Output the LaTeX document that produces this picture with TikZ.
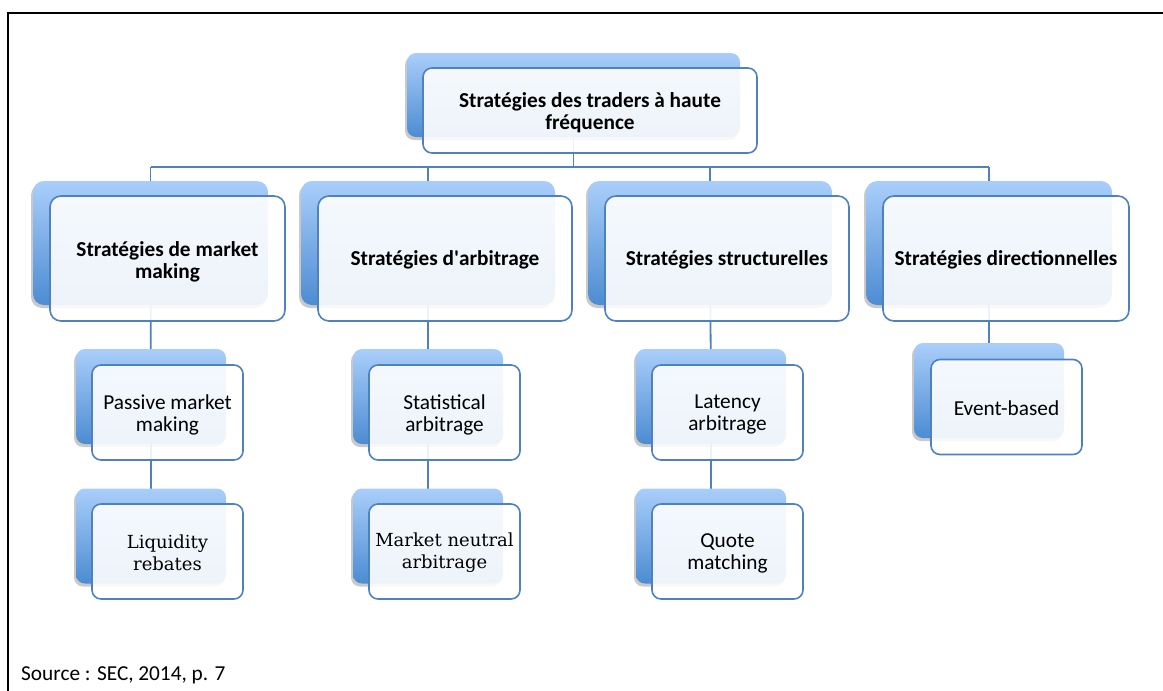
\documentclass[tikz,border=0pt]{standalone}
\usepackage{fontspec}
\setmainfont{Carlito}
\newfontfamily\seriffam{DejaVu Serif}
\usetikzlibrary{shadows,backgrounds}

\definecolor{edgeblue}{RGB}{79,129,189}
\definecolor{backtop}{RGB}{170,206,250}
\definecolor{backbot}{RGB}{76,140,210}

\begin{document}
\begin{tikzpicture}[x=1pt,y=-1pt,
  backbox/.style={rectangle, rounded corners=11pt, inner sep=0pt, draw=none,
    top color=backtop, bottom color=backbot,
    drop shadow={shadow xshift=-2pt, shadow yshift=-3pt, opacity=0.3, fill=black!70}},
  frontbox/.style={rectangle, rounded corners=11pt, inner sep=0pt, draw=edgeblue,
    line width=1.6pt, fill=white, fill opacity=0.9},
  bodytext/.style={inner sep=0pt, align=center, font=\fontsize{21.3}{22}\selectfont},
  headtext/.style={bodytext, font=\fontsize{21.3}{22}\selectfont\bfseries},
  serifbody/.style={bodytext, font=\seriffam\fontsize{18}{22}\selectfont},
  smallback/.style={backbox, minimum width=150pt, minimum height=95pt, rounded corners=9pt},
  smallfront/.style={frontbox, minimum width=151pt, minimum height=95pt, rounded corners=9pt},
  bigback/.style={backbox, minimum height=124pt},
  bigfront/.style={frontbox, minimum height=125pt},
  conn/.style={draw=edgeblue, line width=1.8pt}]

\useasboundingbox (0,0) rectangle (1163,691);

% frame (top and left edges)
\draw[line width=2pt] (8,691) -- (8,13) -- (1163,13);

% root
\node[backbox, minimum width=333pt, minimum height=84pt, rounded corners=9pt] (b0) at (573.5,95) {};
\node[frontbox, minimum width=334pt, minimum height=85pt, rounded corners=9pt] (f0) at (590,110.5) {};
\node[headtext] (t0) at ([yshift=-2.5pt]f0.center) {Stratégies des traders à haute\\fréquence};

% first level
\node[bigback, minimum width=235pt] (b1) at (150.5,243) {};
\node[bigfront, minimum width=235pt] (f1) at (167.5,258.5) {};
\node[headtext] (t1) at ([yshift=-3pt]f1.center) {Stratégies de market\\making};

\node[bigback, minimum width=254pt] (b2) at (428,243) {};
\node[bigfront, minimum width=254pt] (f2) at (445,258.5) {};
\node[headtext] (t2) at ([yshift=-1pt]f2.center) {Stratégies d\textquotesingle arbitrage};

\node[bigback, minimum width=244pt] (b3) at (710,243) {};
\node[bigfront, minimum width=244pt] (f3) at (727,258.5) {};
\node[headtext] (t3) at ([yshift=-1pt]f3.center) {Stratégies structurelles};

\node[bigback, minimum width=246pt] (b4) at (989,243) {};
\node[bigfront, minimum width=246pt] (f4) at (1006,258.5) {};
\node[headtext] (t4) at ([yshift=-1pt]f4.center) {Stratégies directionnelles};

% second level
\node[smallback] (b1a) at (151,396.5) {};
\node[smallfront] (f1a) at (167.5,412.5) {};
\node[bodytext] (t1a) at ([yshift=-2pt]f1a.center) {Passive market\\making};
\node[smallback] (b1b) at (151,536) {};
\node[smallfront] (f1b) at (167.5,551.5) {};
\node[serifbody] (t1b) at ([yshift=-1pt]f1b.center) {Liquidity\\rebates};

\node[smallback] (b2a) at (428,396.5) {};
\node[smallfront] (f2a) at (444.5,412.5) {};
\node[bodytext] (t2a) at ([yshift=-2pt]f2a.center) {Statistical\\arbitrage};
\node[smallback] (b2b) at (428,536) {};
\node[smallfront] (f2b) at (444.5,551.5) {};
\node[serifbody] (t2b) at ([yshift=-1pt]f2b.center) {Market neutral\\arbitrage};

\node[smallback] (b3a) at (711,396.5) {};
\node[smallfront] (f3a) at (727.5,412.5) {};
\node[bodytext] (t3a) at ([yshift=-2pt]f3a.center) {Latency\\arbitrage};
\node[smallback] (b3b) at (711,536) {};
\node[smallfront] (f3b) at (727.5,551.5) {};
\node[bodytext] (t3b) at ([yshift=-2pt]f3b.center) {Quote\\matching};

\node[smallback] (b4a) at (989,390.5) {};
\node[smallfront] (f4a) at (1006.5,407) {};
\node[bodytext] (t4a) at ([yshift=-1pt]f4a.center) {Event-based};

% connectors
\coordinate (bus) at (0,167);
\begin{scope}[on background layer]
  \draw[conn] (b0.center) -- (b0.center |- bus);
  \draw[conn] (b1.center |- bus) -- (b4.center |- bus);
  \draw[conn] (b1.center |- bus) -- (b1.center);
  \draw[conn] (b2.center |- bus) -- (b2.center);
  \draw[conn] (b3.center |- bus) -- (b3.center);
  \draw[conn] (b4.center |- bus) -- (b4.center);
  \draw[conn] (b1.center) -- (b1a.center);
  \draw[conn] (b1a.center) -- (b1b.center);
  \draw[conn] (b2.center) -- (b2a.center);
  \draw[conn] (b2a.center) -- (b2b.center);
  \draw[conn] (b3.center) -- (b3a.center);
  \draw[conn] (b3a.center) -- (b3b.center);
  \draw[conn] (b4.center) -- (b4a.center);
\end{scope}

% source note
\node[anchor=west, inner sep=0pt, font=\fontsize{21.3}{22}\selectfont] (src) at (21,675) {Source : SEC, 2014, p. 7};

\end{tikzpicture}
\end{document}
